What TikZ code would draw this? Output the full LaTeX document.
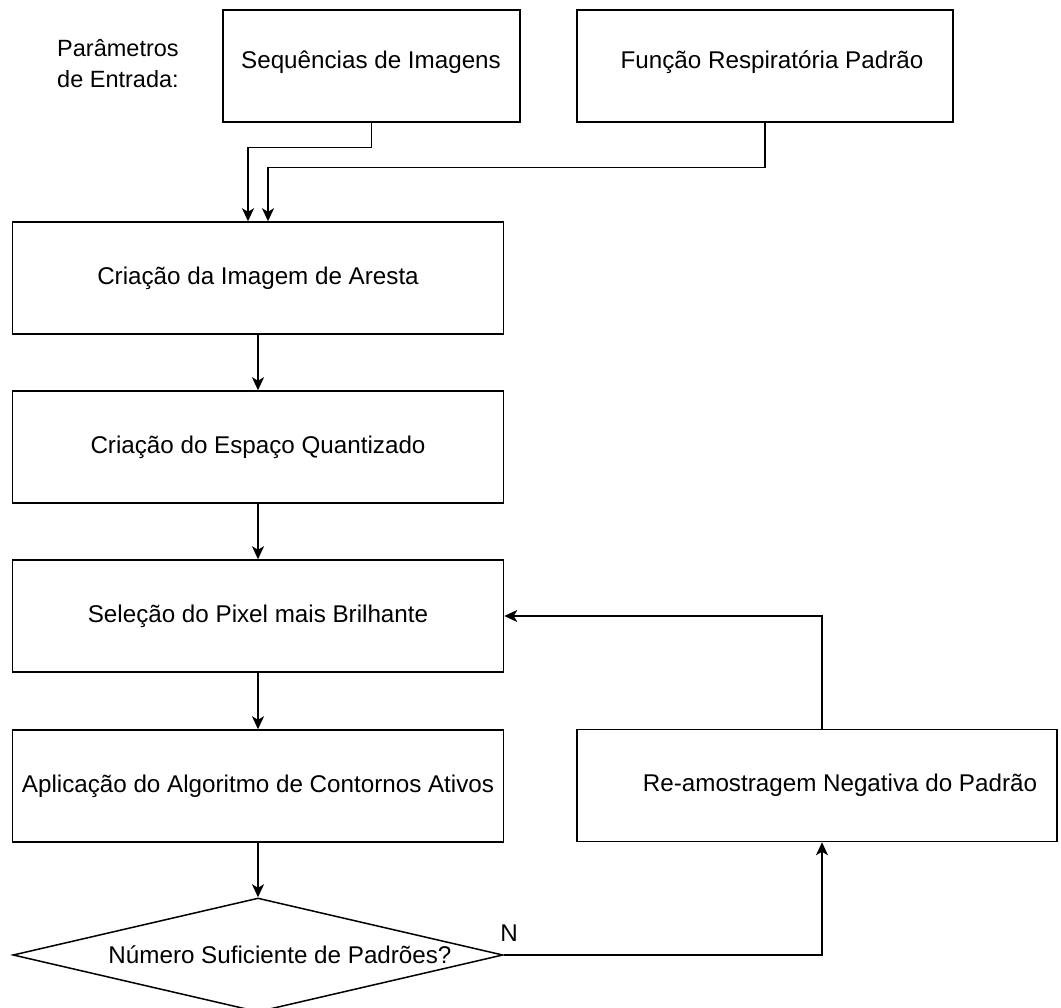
\documentclass[tikz,border=0pt]{standalone}
\usepackage{fontspec}
\setmainfont{Liberation Sans}
\usetikzlibrary{arrows.meta,shapes.geometric}
\tikzset{
	caixa/.style={draw, line width=1.5pt, minimum height=112pt, inner sep=0pt, font=\fontsize{24.2}{29}\selectfont},
	losango/.style={draw, diamond, line width=1.5pt, aspect=4.3, minimum width=490pt, minimum height=114pt, inner sep=0pt},
	rotulo/.style={inner sep=0pt, font=\fontsize{24.2}{29}\selectfont},
	seta/.style={line width=1.5pt, -{Stealth[length=13pt, width=12pt, inset=3.5pt]}},
	linha/.style={line width=1.5pt}
}

\begin{document}
\begin{tikzpicture}[x=1pt, y=-1pt]
			%%%%% START %%%%%
			\useasboundingbox (0, 0) rectangle (1061, 1008);
			
			\node[rotulo, align=left, font=\fontsize{23.5}{31}\selectfont] (param) at (118, 64) {Parâmetros\\de Entrada:};
			
			\node[caixa, minimum width=297pt] (seq) at (371.5, 66) {};
			\node[rotulo] (seqtxt) at (371, 62) {Sequências de Imagens};
			\node[caixa, minimum width=376pt] (func) at (765, 66) {};
			\node[rotulo] (functxt) at (772, 62) {Função Respiratória Padrão};
			
			\node[caixa, minimum width=491pt] (aresta) at (258, 278) {Criação da Imagem de Aresta};
			\node[caixa, minimum width=491pt] (quant) at (258, 447) {Criação do Espaço Quantizado};
			\node[caixa, minimum width=491pt] (selecao) at (258, 616) {Seleção do Pixel mais Brilhante};
			\node[caixa, minimum width=491pt] (aplic) at (258, 786) {Aplicação do Algoritmo de Contornos Ativos};
			
			\node[caixa, minimum width=480pt] (reamost) at (817, 785.5) {};
			\node[rotulo] (reamosttxt) at (840, 785.5) {Re-amostragem Negativa do Padrão};
			
			\node[losango] (decisao) at (258, 955) {};
			\node[rotulo] (decisaotxt) at (280, 955) {Número Suficiente de Padrões?};
			\node[rotulo] (rotN) at (509, 933) {N};
			
			% entradas
			\draw[seta] (seq.south) -- ++(0, 25) -| ([xshift=-10pt]aresta.north);
			\draw[seta] (func.south) -- ++(0, 45) -| ([xshift=10pt]aresta.north);
			
			% fluxo principal
			\draw[seta] (aresta.south) -- (quant.north);
			\draw[seta] (quant.south) -- (selecao.north);
			\draw[seta] (selecao.south) -- (aplic.north);
			\draw[seta] (aplic.south) -- (decisao.north);
			
			% laco de re-amostragem
			\draw[seta] (decisao.east) -| ([xshift=5pt]reamost.south);
			\draw[seta] ([xshift=5pt]reamost.north) |- (selecao.east);
			
			%%%%% END %%%%%
\end{tikzpicture}
\end{document}
